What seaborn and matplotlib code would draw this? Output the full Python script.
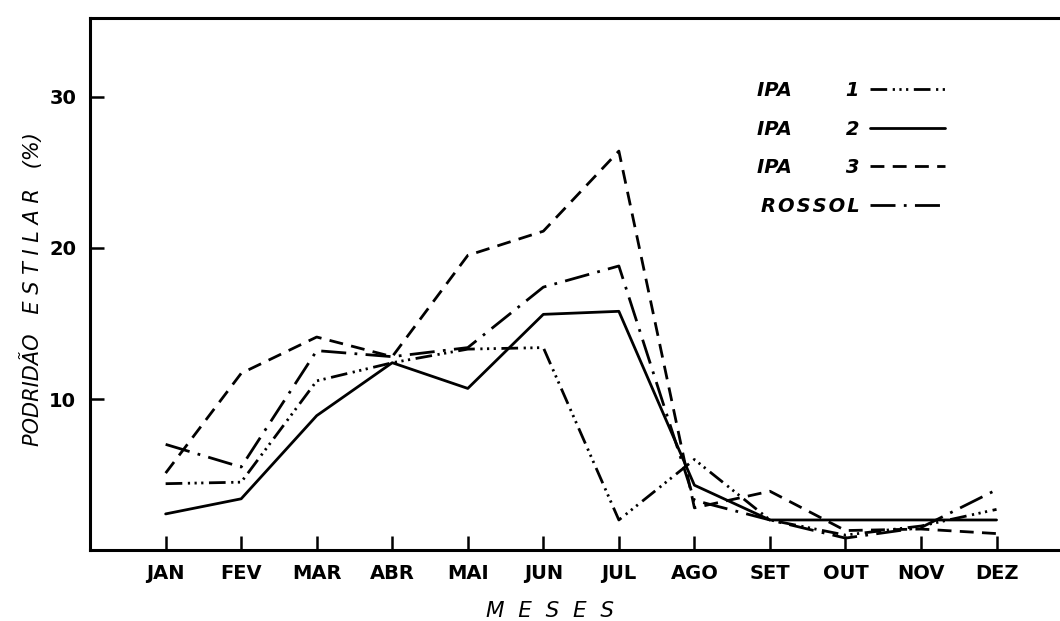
import numpy as np
import pandas as pd
import seaborn as sns
import matplotlib.pyplot as plt
from matplotlib.lines import Line2D

meses = ['JAN', 'FEV', 'MAR', 'ABR', 'MAI', 'JUN', 'JUL', 'AGO', 'SET', 'OUT', 'NOV', 'DEZ']
ipa1 = [4.4, 4.5, 11.2, 12.4, 13.3, 13.4, 2.0, 6.0, 2.0, 1.0, 1.6, 2.7]
ipa2 = [2.4, 3.4, 8.9, 12.4, 10.7, 15.6, 15.8, 4.3, 2.0, 2.0, 2.0, 2.0]
ipa3 = [5.1, 11.7, 14.1, 12.8, 19.5, 21.1, 26.4, 2.8, 3.9, 1.3, 1.4, 1.1]
rossol = [7.0, 5.5, 13.2, 12.8, 13.4, 17.4, 18.8, 3.3, 2.0, 0.8, 1.5, 4.0]

series = {'IPA 1': ipa1, 'IPA 2': ipa2, 'IPA 3': ipa3, 'ROSSOL': rossol}
legend_labels = ['IPA        1', 'IPA        2', 'IPA        3',
                 'R\u200aO\u200aS\u200aS\u200aO\u200aL']

rows = []
for nome, vals in series.items():
    for i, v in enumerate(vals):
        rows.append({'mes': i, 'valor': v, 'serie': nome})
df = pd.DataFrame(rows)

sns.set_style('ticks', {'axes.edgecolor': 'black', 'xtick.color': 'black',
                        'ytick.color': 'black', 'text.color': 'black',
                        'axes.labelcolor': 'black'})
plt.rcParams['font.family'] = ['DejaVu Sans']

dash_styles = {
    'IPA 1': (6, 2, 0.8, 1.6, 0.8, 1.6, 0.8, 2),
    'IPA 2': '',
    'IPA 3': (5, 3),
    'ROSSOL': (9, 3, 1, 3),
}

fig = plt.figure(figsize=(10.6, 6.21), dpi=100)
ax = fig.add_axes([0.085, 0.114, 0.915, 0.857])

sns.lineplot(data=df, x='mes', y='valor', style='serie', dashes=dash_styles,
             color='black', linewidth=2.0, legend=False, ax=ax)

ax.set_xlim(-1, 11.84)
ax.set_ylim(0, 35.2)
ax.set_xticks(range(len(meses)))
ax.set_xticklabels(meses, fontsize=14, fontweight='bold')
ax.set_yticks([10, 20, 30])
ax.set_yticklabels(['10', '20', '30'], fontsize=14, fontweight='bold')
ax.tick_params(axis='both', direction='in', length=10, width=1.8)
ax.tick_params(axis='x', pad=10)
ax.tick_params(axis='y', pad=10)

for s in ['left', 'top', 'bottom']:
    ax.spines[s].set_linewidth(2.2)
ax.spines['right'].set_visible(False)

ax.set_xlabel('M  E  S  E  S', fontsize=15.5, fontstyle='italic', va='baseline')
ax.xaxis.set_label_coords(0.474, -0.126)
ax.set_ylabel('PODRIDÃO   E S T I L A R   (%)', fontsize=15, fontstyle='italic')
ax.yaxis.set_label_coords(-0.049, 0.49)

handles = []
for k in series:
    if dash_styles[k]:
        handles.append(Line2D([0], [0], color='black', linewidth=2.0,
                              linestyle=(0, dash_styles[k])))
    else:
        handles.append(Line2D([0], [0], color='black', linewidth=2.0, linestyle='-'))

ax.legend(handles, legend_labels, loc='upper left', bbox_to_anchor=(0.670, 0.914),
          frameon=False, markerfirst=False, handlelength=3.9, labelspacing=1.0,
          handletextpad=0.5, prop={'size': 14, 'weight': 'bold', 'style': 'italic'})

fig.savefig('out.png', dpi=100)
